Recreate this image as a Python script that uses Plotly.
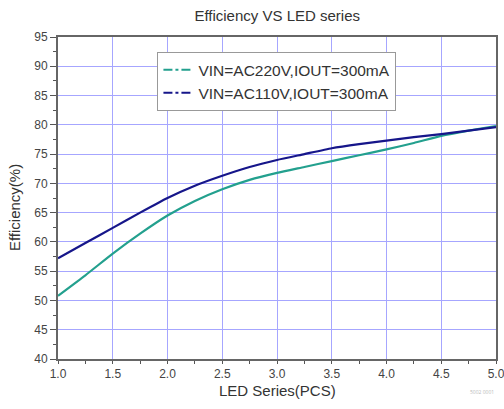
import plotly.graph_objects as go

led_series = [1.0, 1.25, 1.5, 1.75, 2.0, 2.25, 2.5, 2.75, 3.0, 3.25, 3.5, 3.75, 4.0, 4.25, 4.5, 4.75, 5.0]
eff_ac220 = [50.8, 54.3, 58.0, 61.4, 64.5, 67.0, 69.0, 70.6, 71.8, 72.8, 73.8, 74.8, 75.8, 76.9, 78.1, 79.0, 79.8]
eff_ac110 = [57.2, 59.8, 62.4, 65.0, 67.5, 69.6, 71.3, 72.8, 74.0, 75.0, 76.0, 76.7, 77.3, 77.9, 78.4, 79.0, 79.6]
names = ["VIN=AC220V,IOUT=300mA", "VIN=AC110V,IOUT=300mA"]
colors = ["#23a08e", "#16168a"]
x_title = "LED Series(PCS)"
y_title = "Efficiency(%)"
chart_title = "Efficiency VS LED series"

FONT = "Liberation Sans, Arial"

fig = go.Figure()
for ys, c in [(eff_ac220, colors[0]), (eff_ac110, colors[1])]:
    fig.add_trace(go.Scatter(x=led_series, y=ys, mode="lines",
                             line=dict(color=c, width=2.2, shape="spline", smoothing=0.5),
                             showlegend=False, hoverinfo="x+y"))
for nm, c in zip(names, colors):
    fig.add_trace(go.Scatter(x=[None], y=[None], mode="lines", name=nm,
                             line=dict(color=c, width=2, dash="dashdot")))

axis_common = dict(showline=True, linecolor="#666666", linewidth=2, mirror=True,
                   ticks="outside", tickcolor="#555555", tickwidth=1,
                   gridcolor="#a6a6ff", gridwidth=1, zeroline=False,
                   ticklabeloverflow="allow",
                   tickfont=dict(family=FONT, size=12, color="#444444"))

fig.update_xaxes(range=[1.0, 5.0], dtick=0.5, tickformat=".1f", ticklen=3,
                 minor=dict(dtick=0.25, ticks="outside", ticklen=3, tickcolor="#555555", showgrid=False),
                 **axis_common)
fig.update_yaxes(range=[40, 95], dtick=5, ticklen=6,
                 minor=dict(dtick=2.5, ticks="outside", ticklen=3, tickcolor="#555555", showgrid=False),
                 **axis_common)

fig.update_layout(
    width=504, height=409,
    margin=dict(l=58, r=8, t=37, b=50, autoexpand=False),
    paper_bgcolor="white", plot_bgcolor="white",
    title=dict(text=chart_title, x=0.55, xanchor="center", y=1 - 16 / 409, yanchor="middle",
               font=dict(family=FONT, size=15, color="#333333")),
    legend=dict(x=0.227, y=0.953, xanchor="left", yanchor="top", bgcolor="white",
                bordercolor="#999999", borderwidth=1,
                font=dict(family=FONT, size=15.5, color="#333333"),
                tracegroupgap=0, itemwidth=30),
    showlegend=True,
)
fig.add_annotation(text=x_title, x=0.5, y=-0.099, xref="paper", yref="paper",
                   xanchor="center", yanchor="middle", showarrow=False,
                   font=dict(family=FONT, size=15, color="#333333"))
fig.add_annotation(text=y_title, x=-0.098, y=0.469, xref="paper", yref="paper", textangle=-90,
                   xanchor="center", yanchor="middle", showarrow=False,
                   font=dict(family=FONT, size=15, color="#333333"))
fig.add_annotation(text="5002 0001", x=1.0, y=-0.118, xref="paper", yref="paper", xanchor="right",
                   showarrow=False, font=dict(size=5, color="#bbbbbb"))

fig.write_html("out.html", config={"displayModeBar": False},
               post_script="document.body.style.margin='0px';document.body.style.overflow='hidden';")
